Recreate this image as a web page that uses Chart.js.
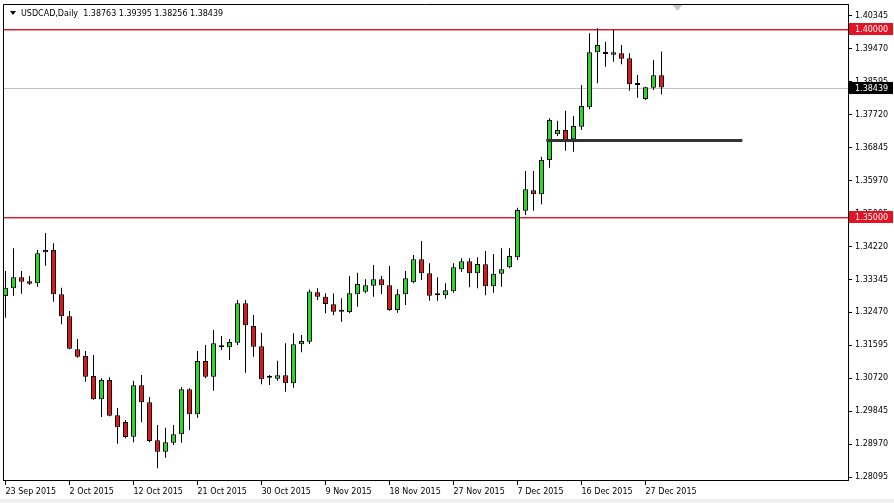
<!DOCTYPE html>
<html>
<head>
<meta charset="utf-8">
<title>USDCAD, Daily</title>
<script src="https://cdn.jsdelivr.net/npm/chart.js@4.4.0/dist/chart.umd.min.js"></script>
<style>
  html, body { margin: 0; padding: 0; background: #f0f0f0; }
  #wrap { width: 894px; height: 499px; background: #fff; }
</style>
</head>
<body>
<div id="wrap"><canvas id="chart" width="894" height="499"></canvas></div>
<script>
// One bar per trading day (broker has Sunday bars, no bar on 25 Dec)
const dates = [
  "23 Sep 2015", "24 Sep 2015", "25 Sep 2015", "27 Sep 2015", "28 Sep 2015", "29 Sep 2015", "30 Sep 2015",
  "1 Oct 2015", "2 Oct 2015", "4 Oct 2015", "5 Oct 2015", "6 Oct 2015", "7 Oct 2015", "8 Oct 2015",
  "9 Oct 2015", "11 Oct 2015", "12 Oct 2015", "13 Oct 2015", "14 Oct 2015", "15 Oct 2015", "16 Oct 2015",
  "18 Oct 2015", "19 Oct 2015", "20 Oct 2015", "21 Oct 2015", "22 Oct 2015", "23 Oct 2015", "25 Oct 2015",
  "26 Oct 2015", "27 Oct 2015", "28 Oct 2015", "29 Oct 2015", "30 Oct 2015",
  "1 Nov 2015", "2 Nov 2015", "3 Nov 2015", "4 Nov 2015", "5 Nov 2015", "6 Nov 2015", "8 Nov 2015",
  "9 Nov 2015", "10 Nov 2015", "11 Nov 2015", "12 Nov 2015", "13 Nov 2015", "15 Nov 2015", "16 Nov 2015",
  "17 Nov 2015", "18 Nov 2015", "19 Nov 2015", "20 Nov 2015", "22 Nov 2015", "23 Nov 2015", "24 Nov 2015",
  "25 Nov 2015", "26 Nov 2015", "27 Nov 2015", "29 Nov 2015", "30 Nov 2015",
  "1 Dec 2015", "2 Dec 2015", "3 Dec 2015", "4 Dec 2015", "6 Dec 2015", "7 Dec 2015", "8 Dec 2015",
  "9 Dec 2015", "10 Dec 2015", "11 Dec 2015", "13 Dec 2015", "14 Dec 2015", "15 Dec 2015", "16 Dec 2015",
  "17 Dec 2015", "18 Dec 2015", "20 Dec 2015", "21 Dec 2015", "22 Dec 2015", "23 Dec 2015", "24 Dec 2015",
  "27 Dec 2015", "28 Dec 2015", "29 Dec 2015"
];

const opens = [
  1.32906, 1.33110, 1.33402, 1.33296, 1.33243, 1.34066, 1.34127, 1.32951, 1.32367, 1.31491,
  1.31313, 1.30783, 1.30164, 1.30677, 1.29740, 1.29562, 1.29172, 1.30536, 1.30085, 1.29076,
  1.28774, 1.29012, 1.29235, 1.30430, 1.29766, 1.31181, 1.30764, 1.31547, 1.31544, 1.31666,
  1.32712, 1.32110, 1.31571, 1.30748, 1.30711, 1.30801, 1.30589, 1.31624, 1.31693, 1.33004,
  1.32887, 1.32688, 1.32500, 1.32481, 1.32951, 1.33020, 1.33179, 1.33349, 1.33190, 1.32534,
  1.32951, 1.33270, 1.33880, 1.33508, 1.32938, 1.32924, 1.33031, 1.33615, 1.33827, 1.33508,
  1.33747, 1.33163, 1.33498, 1.33668, 1.33933, 1.35170, 1.35711, 1.35605, 1.36515, 1.37197,
  1.37312, 1.37065, 1.37399, 1.37914, 1.39374, 1.39337, 1.39310, 1.39347, 1.39214, 1.38514,
  1.38134, 1.38434, 1.38763
];
const highs = [
  1.33569, 1.34172, 1.33569, 1.33437, 1.34127, 1.34578, 1.34305, 1.33126, 1.32508, 1.31765,
  1.31446, 1.31340, 1.30722, 1.30748, 1.29933, 1.29615, 1.30658, 1.30809, 1.30225, 1.29482,
  1.29411, 1.29482, 1.30483, 1.30456, 1.31446, 1.31605, 1.32004, 1.31844, 1.31765, 1.32800,
  1.32800, 1.32402, 1.31932, 1.30809, 1.31189, 1.31651, 1.31916, 1.31871, 1.33078, 1.33110,
  1.32978, 1.32972, 1.32845, 1.33437, 1.33524, 1.33349, 1.33729, 1.33437, 1.33702, 1.33084,
  1.33569, 1.33994, 1.34366, 1.33774, 1.33402, 1.33243, 1.33774, 1.33906, 1.33906, 1.33933,
  1.34100, 1.34021, 1.34172, 1.34172, 1.35249, 1.36223, 1.36223, 1.36603, 1.37622, 1.37558,
  1.37824, 1.37683, 1.38506, 1.39878, 1.40011, 1.39655, 1.39966, 1.39567, 1.39347, 1.38771,
  1.38461, 1.39169, 1.39395
];
const lows = [
  1.32330, 1.32914, 1.32967, 1.33198, 1.33153, 1.33710, 1.32755, 1.32155, 1.31491, 1.31268,
  1.30631, 1.30150, 1.29695, 1.29715, 1.28986, 1.29129, 1.29023, 1.29554, 1.29023, 1.28333,
  1.28614, 1.28951, 1.29012, 1.29350, 1.29676, 1.30722, 1.30393, 1.31473, 1.31207, 1.31605,
  1.30870, 1.31295, 1.30562, 1.30544, 1.30658, 1.30366, 1.30472, 1.31412, 1.31632, 1.32800,
  1.32447, 1.32394, 1.32224, 1.32447, 1.32622, 1.32978, 1.32887, 1.32959, 1.32516, 1.32463,
  1.32667, 1.33243, 1.33330, 1.32781, 1.32781, 1.32834, 1.32993, 1.33551, 1.33137, 1.33110,
  1.32924, 1.32993, 1.33153, 1.33641, 1.33861, 1.35056, 1.35170, 1.35340, 1.36311, 1.37152,
  1.36762, 1.36736, 1.37312, 1.37861, 1.38551, 1.38992, 1.39124, 1.39055, 1.38355, 1.38169,
  1.38108, 1.38373, 1.38256
];
const closes = [
  1.33126, 1.33402, 1.33285, 1.33232, 1.34039, 1.34127, 1.32951, 1.32367, 1.31507, 1.31295,
  1.30764, 1.30164, 1.30677, 1.29729, 1.29421, 1.29164, 1.30536, 1.30085, 1.29058, 1.28774,
  1.29023, 1.29235, 1.30430, 1.29766, 1.31181, 1.30764, 1.31651, 1.31558, 1.31685, 1.32712,
  1.32128, 1.31560, 1.30695, 1.30738, 1.30801, 1.30589, 1.31624, 1.31712, 1.33025, 1.32887,
  1.32694, 1.32489, 1.32490, 1.32978, 1.33224, 1.33190, 1.33349, 1.33190, 1.32534, 1.32951,
  1.33376, 1.33880, 1.33508, 1.32914, 1.32927, 1.33057, 1.33668, 1.33827, 1.33508, 1.33755,
  1.33163, 1.33498, 1.33615, 1.33967, 1.35188, 1.35738, 1.35605, 1.36515, 1.37577, 1.37312,
  1.37046, 1.37418, 1.37949, 1.39374, 1.39567, 1.39328, 1.39374, 1.39204, 1.38524, 1.38506,
  1.38445, 1.38763, 1.38439
];

// price axis labels on the right
const yTicks = [1.40345, 1.39470, 1.38595, 1.37720, 1.36845, 1.35970, 1.35095,
                1.34220, 1.33345, 1.32470, 1.31595, 1.30720, 1.29845, 1.28970, 1.28095];
const labelEvery = 8; // a date label every 8 bars

// drawn objects
const redLevels = [1.40000, 1.35000];
const lastPrice = 1.38439;
const support = { price: 1.37046, from: 67.6, to: 92.1 };
const shiftMarker = 84;

const symbolTitle = "USDCAD,Daily";
const titleOHLC = [1.38763, 1.39395, 1.38256, 1.38439];

const GREEN = "#22dd22";
const RED = "#e01818";
const LINE_RED = "#dc1a2a";
const FONT = '"DejaVu Sans", sans-serif';

const bodyColors = opens.map((o, i) => {
  const d = closes[i] - o;
  if (Math.abs(d) < 0.00015) return "#000";
  return d > 0 ? GREEN : RED;
});

// Draw the horizontal lines, labels and frame bits MT4 puts on the chart
const mtOverlay = {
  id: "mtOverlay",
  beforeDatasetsDraw(chart) {
    const { ctx, chartArea: a, scales: { y } } = chart;
    const w = a.right - a.left;
    ctx.save();
    ctx.fillStyle = "#c0c0c0";
    ctx.fillRect(a.left, Math.round(y.getPixelForValue(lastPrice)), w, 1);
    redLevels.forEach(v => {
      const p = Math.round(y.getPixelForValue(v));
      ctx.fillStyle = LINE_RED;
      ctx.fillRect(a.left, p, w, 1);
      ctx.fillStyle = "rgba(220,26,42,0.45)";
      ctx.fillRect(a.left, p + 1, w, 1);
    });
    ctx.restore();
  },
  afterDatasetsDraw(chart) {
    const { ctx, chartArea: a, scales: { x, y } } = chart;
    ctx.save();
    const py = Math.round(y.getPixelForValue(support.price)) + 0.5;
    ctx.strokeStyle = "#333";
    ctx.lineWidth = 3;
    ctx.beginPath();
    ctx.moveTo(x.getPixelForValue(support.from), py);
    ctx.lineTo(Math.min(x.getPixelForValue(support.to), a.right), py);
    ctx.stroke();
    ctx.restore();
  },
  afterDraw(chart) {
    const { ctx, chartArea: a, scales: { x, y } } = chart;
    ctx.save();
    // left and top frame lines (right/bottom come from the axes)
    ctx.strokeStyle = "#000";
    ctx.lineWidth = 1;
    ctx.beginPath();
    ctx.moveTo(a.left + 0.5, a.bottom); ctx.lineTo(a.left + 0.5, a.top + 0.5);
    ctx.lineTo(a.right, a.top + 0.5);
    ctx.stroke();

    // chart shift marker
    const mx = x.getPixelForValue(shiftMarker);
    ctx.fillStyle = "#c8c8c8";
    ctx.beginPath();
    ctx.moveTo(mx - 5, a.top + 1); ctx.lineTo(mx + 5, a.top + 1); ctx.lineTo(mx, a.top + 7);
    ctx.closePath(); ctx.fill();

    // title
    ctx.fillStyle = "#000";
    ctx.font = "8px " + FONT;
    ctx.textBaseline = "middle";
    ctx.textAlign = "left";
    ctx.beginPath();
    ctx.moveTo(a.left + 7, a.top + 7); ctx.lineTo(a.left + 13, a.top + 7); ctx.lineTo(a.left + 10, a.top + 11);
    ctx.closePath(); ctx.fill();
    ctx.fillText(symbolTitle + "  " + titleOHLC.map(v => v.toFixed(5)).join(" "), a.left + 18, a.top + 9.5);

    // price tags on the axis
    const tag = (v, bg) => {
      const p = Math.round(y.getPixelForValue(v));
      ctx.fillStyle = bg;
      ctx.fillRect(a.right + 1, p - 6, chart.width - a.right - 2, 12);
      ctx.fillStyle = "#fff";
      ctx.fillText(v.toFixed(5), a.right + 7, p + 0.5);
    };
    redLevels.forEach(v => tag(v, "#e41222"));
    tag(lastPrice, "#000");
    ctx.restore();
  }
};

const candles = dates.map((d, i) => ({ x: i, y: [opens[i], closes[i]] }));
const wicks = dates.map((d, i) => ({ x: i, y: [lows[i], highs[i]] }));

new Chart(document.getElementById("chart"), {
  type: "bar",
  data: {
    datasets: [
      {
        label: "body",
        data: candles,
        backgroundColor: bodyColors,
        borderColor: "#000",
        borderWidth: 1,
        borderSkipped: false,
        barThickness: 5,
        minBarLength: 2,
        inflateAmount: 0,
        grouped: false,
        order: 0
      },
      {
        label: "wick",
        data: wicks,
        backgroundColor: "#000",
        borderWidth: 0,
        barThickness: 1,
        inflateAmount: 0,
        grouped: false,
        order: 1
      }
    ]
  },
  options: {
    responsive: false,
    animation: false,
    devicePixelRatio: 1,
    events: [],
    layout: { padding: { left: 3, top: 4, right: 0, bottom: 0 } },
    plugins: { legend: { display: false }, tooltip: { enabled: false } },
    scales: {
      x: {
        type: "linear",
        min: -0.3125,
        max: 105.3125,
        offset: false,
        grid: { offset: false, drawOnChartArea: false, drawTicks: true, tickLength: 5, color: "#000" },
        border: { color: "#000" },
        ticks: {
          align: "start",
          padding: 2,
          maxRotation: 0,
          autoSkip: false,
          color: "#000",
          font: { family: FONT, size: 8 },
          callback: v => dates[v]
        },
        afterBuildTicks: s => {
          const t = [];
          for (let i = 0; i < dates.length; i += labelEvery) t.push({ value: i });
          s.ticks = t;
        },
        afterFit: s => {
          s.height = 19;
          s.paddingLeft = 0; s.paddingRight = 0;
        }
      },
      y: {
        position: "right",
        min: 1.28022,
        max: 1.40656,
        grid: { drawOnChartArea: false, drawTicks: true, tickLength: 4, color: "#000" },
        border: { color: "#000" },
        ticks: {
          padding: 3,
          color: "#000",
          font: { family: FONT, size: 8 },
          callback: v => v.toFixed(5)
        },
        afterBuildTicks: s => { s.ticks = yTicks.map(v => ({ value: v })); },
        afterFit: s => {
          s.width = 46;
          s.paddingTop = 0; s.paddingBottom = 0;
        }
      }
    }
  },
  plugins: [mtOverlay]
});
</script>
</body>
</html>
